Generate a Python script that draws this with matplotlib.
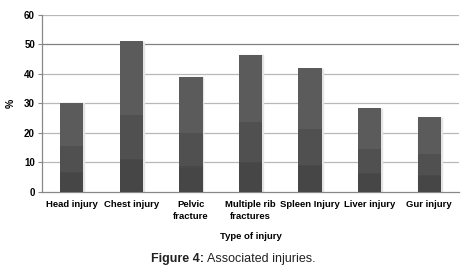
import numpy as np
import matplotlib.pyplot as plt
from matplotlib.patches import Rectangle

plt.rcParams['font.family'] = ['Liberation Sans', 'DejaVu Sans']

# data
categories = ['Head injury', 'Chest injury', 'Pelvic\nfracture', 'Multiple rib\nfractures',
              'Spleen Injury', 'Liver injury', 'Gur injury']
values = [30.2, 51.1, 39.0, 46.5, 41.8, 28.3, 25.2]
yticks = [0, 10, 20, 30, 40, 50, 60]

fig = plt.figure(figsize=(4.66, 2.74), dpi=100)
ax = fig.add_axes([0.090, 0.300, 0.895, 0.646])

x = np.arange(len(categories))
w = 0.39

# bars with three-band shading (light top, darker bottom) plus soft shadow
for xi, v in zip(x, values):
    ax.add_patch(Rectangle((xi - w / 2 + 0.015, 0), w, v - 0.2, color='#e4e4e4', zorder=2))
    ax.bar(xi, v, w, color='#5b5b5b', zorder=3)
    ax.bar(xi, v * 0.51, w, color='#505050', zorder=3)
    ax.bar(xi, v * 0.22, w, color='#484a46', zorder=3)
    ax.bar(xi, v * 0.21, w, color='#464646', zorder=3)

ax.set_xlim(-0.5, len(categories) - 0.5)
ax.set_ylim(0, 60)
ax.set_yticks(yticks)
ax.set_yticklabels([str(t) for t in yticks], fontsize=7, fontweight='bold')
ax.set_xticks(x)
ax.set_xticklabels(categories, fontsize=6.8, fontweight='bold', linespacing=1.45)
ax.tick_params(axis='x', length=0, pad=6)
ax.tick_params(axis='y', length=3, width=0.8, color='#888888', pad=2)

for t in yticks[1:]:
    ax.axhline(t, color='#808080' if t == 50 else '#b8b8b8', lw=0.9, zorder=1)

for s in ['top', 'right']:
    ax.spines[s].set_visible(False)
ax.spines['left'].set_color('#888888')
ax.spines['bottom'].set_color('#888888')
ax.spines['left'].set_linewidth(0.9)
ax.spines['bottom'].set_linewidth(0.9)

ax.set_ylabel('%', fontsize=7.5, fontweight='bold', labelpad=0)
ax.yaxis.set_label_coords(-0.062, 0.5)
ax.set_xlabel('Type of injury', fontsize=6.8, fontweight='bold', labelpad=8)

fig.text(204 / 466, 1 - 259 / 274, 'Figure 4:', fontsize=9, fontweight='bold',
         ha='right', va='center', color='#222222')
fig.text(207 / 466, 1 - 259 / 274, 'Associated injuries.', fontsize=9,
         ha='left', va='center', color='#222222')

fig.savefig('out.png', dpi=100)
